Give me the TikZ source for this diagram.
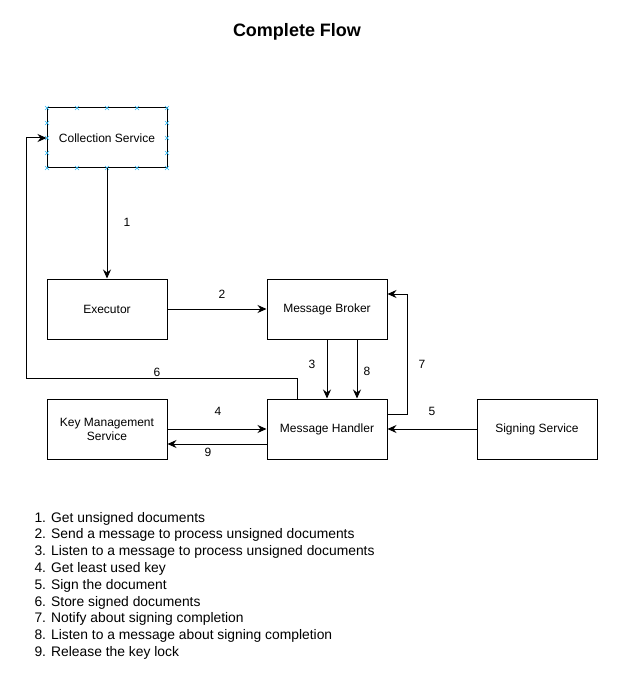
\documentclass[tikz,border=0pt]{standalone}
\usepackage{fontspec}
\setmainfont{Liberation Sans}
\usetikzlibrary{arrows.meta, positioning}
\definecolor{handleblue}{HTML}{29B6F2}

\begin{document}
\begin{tikzpicture}[x=1pt, y=-1pt, line width=1pt,
    box/.style={draw=black, fill=white, minimum width=120pt, minimum height=60pt, inner sep=0pt, align=center, font=\fontsize{12}{14}\selectfont},
    flow/.style={-{Stealth[length=9pt, width=8pt, inset=3pt]}},
    num/.style={font=\fontsize{12}{14}\selectfont},
    handle/.style={handleblue, line width=0.6pt}]
    \useasboundingbox (0,0) rectangle (638,687);
    % Title
    \node[font=\bfseries\fontsize{18}{22}\selectfont] (title) at (297,32) {Complete Flow};
    % Services
    \node[box] (collect) at (107,138) {Collection Service};
    \node[box] (exec) at (107,309) {Executor};
    \node[box] (broker) at (327,309) {Message Broker};
    \node[box] (kms) at (107,429) {Key Management\\Service};
    \node[box] (handler) at (327,429) {Message Handler};
    \node[box] (sign) at (537,429) {Signing Service};
    % Selection handles
    \foreach \hx in {47,77,107,137,167}
        \foreach \hy in {108,168}
            \draw[handle] (\hx-2,\hy-2) -- (\hx+2,\hy+2) (\hx-2,\hy+2) -- (\hx+2,\hy-2);
    \foreach \hx in {47,167}
        \foreach \hy in {123,138,153}
            \draw[handle] (\hx-2,\hy-2) -- (\hx+2,\hy+2) (\hx-2,\hy+2) -- (\hx+2,\hy-2);
    % Connectors
    \draw[flow] (collect) -- (exec);
    \draw[flow] (exec) -- (broker);
    \draw[flow] (broker.south) -- (handler.north);
    \draw[flow] ([xshift=30pt]broker.south) -- ([xshift=30pt]handler.north);
    \draw[flow] ([yshift=15pt]handler.east) -- ++(20,0) |- ([yshift=15pt]broker.east);
    \draw[flow] (sign) -- (handler);
    \draw[flow] (kms) -- (handler);
    \draw[flow] ([yshift=-15pt]handler.west) -- ([yshift=-15pt]kms.east);
    \draw[flow] ([xshift=-30pt]handler.north) -- ++(0,-20) -| ([xshift=-20pt]collect.west) -- (collect.west);
    % Step numbers
    \node[num] (n1) at (127,222) {1};
    \node[num] (n2) at (222,294) {2};
    \node[num] (n3) at (312,364) {3};
    \node[num] (n4) at (218,411) {4};
    \node[num] (n5) at (432,411) {5};
    \node[num] (n6) at (157,372) {6};
    \node[num] (n7) at (422,364) {7};
    \node[num] (n8) at (367,371) {8};
    \node[num] (n9) at (208,452) {9};
    % Legend
    \foreach \txt [count=\i] in {Get unsigned documents,
        Send a message to process unsigned documents,
        Listen to a message to process unsigned documents,
        Get least used key,
        Sign the document,
        Store signed documents,
        Notify about signing completion,
        Listen to a message about signing completion,
        Release the key lock}
        \node[anchor=base west, inner sep=0pt, font=\fontsize{13.85}{17}\selectfont] (step\i) at (34,{505.2+16.8*\i}) {\i. \txt};
\end{tikzpicture}
\end{document}
